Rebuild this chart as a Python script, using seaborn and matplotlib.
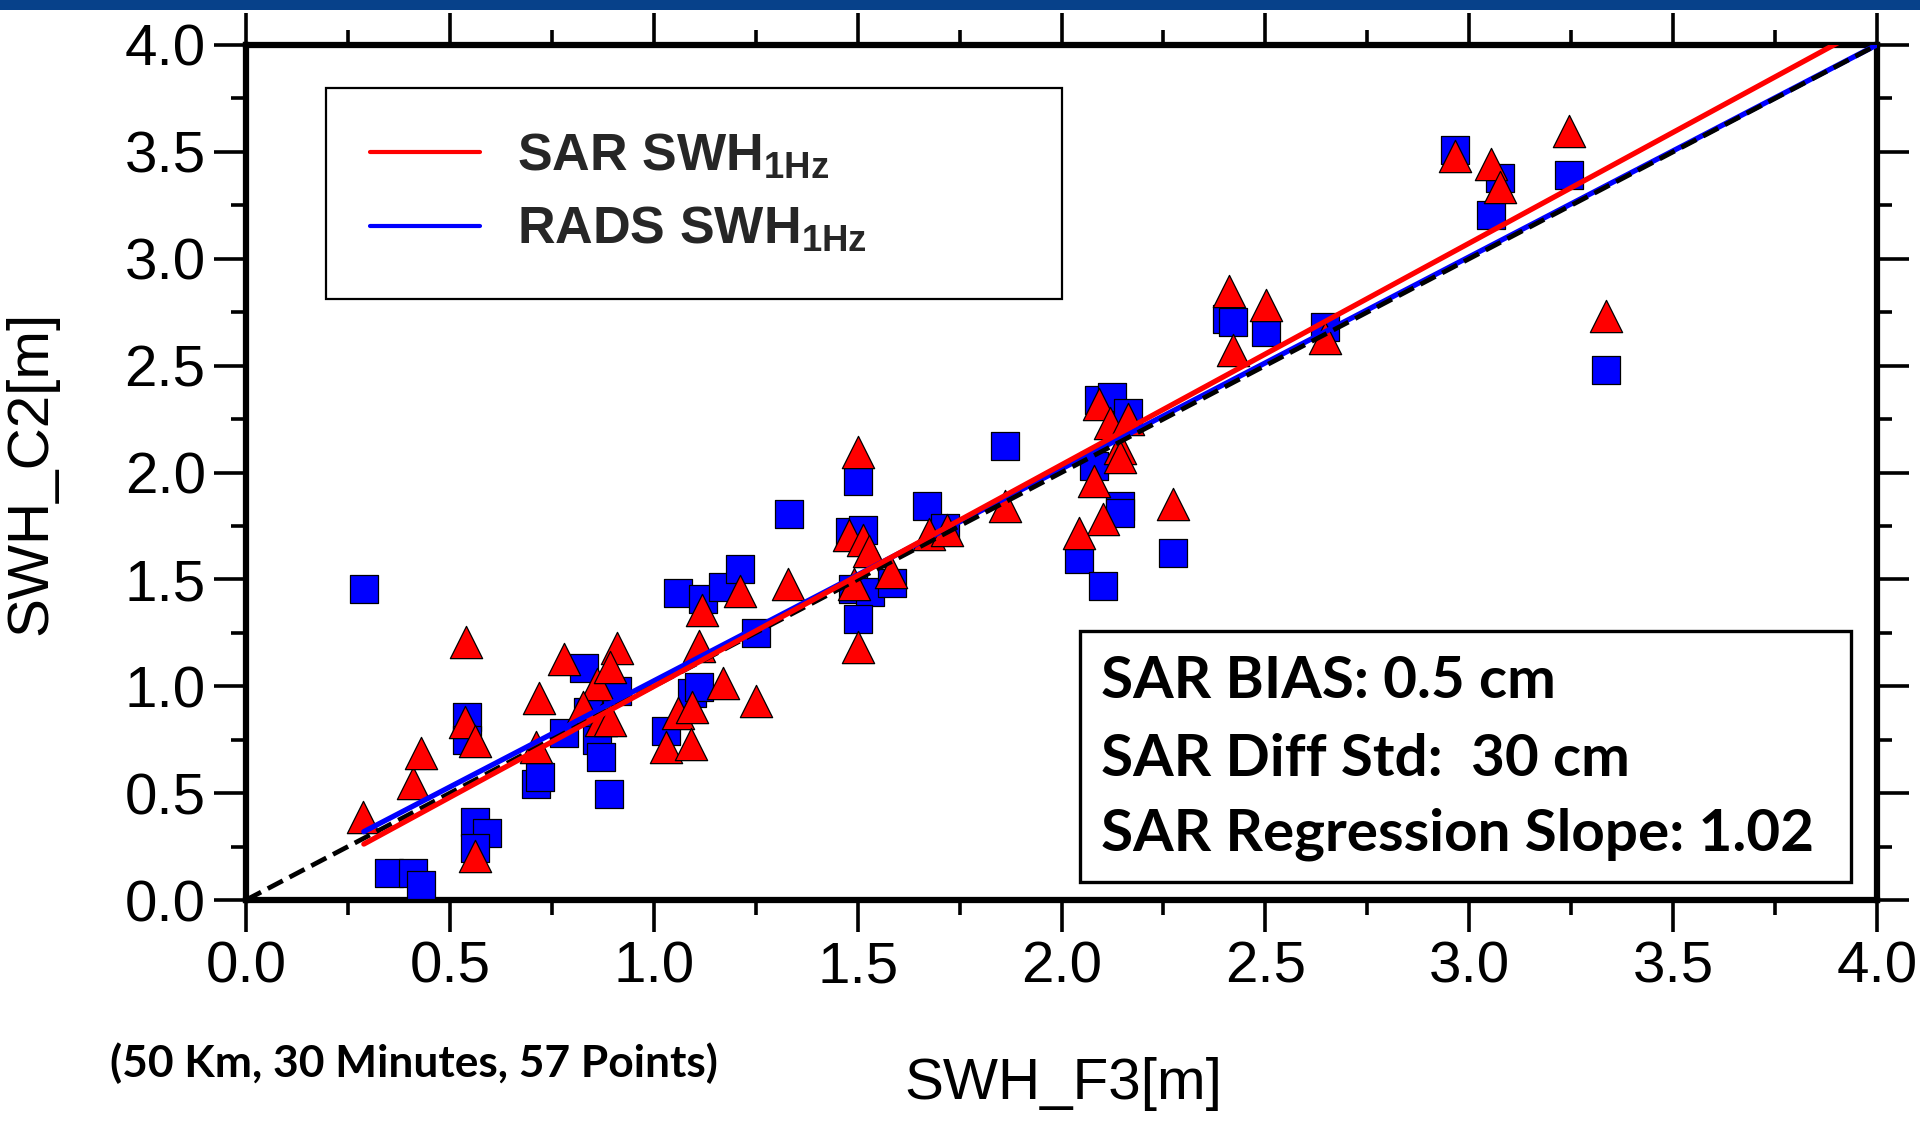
import numpy as np
import pandas as pd
import matplotlib
matplotlib.use("Agg")
import matplotlib.pyplot as plt
from matplotlib.ticker import MultipleLocator, AutoMinorLocator
from matplotlib.patches import Rectangle
import seaborn as sns

# ---------------- data ----------------
rads_x = [0.289, 0.351, 0.409, 0.429, 0.541, 0.541, 0.562, 0.590, 0.562, 0.710,
          0.721, 0.781, 0.830, 0.838, 0.860, 0.870, 0.890, 0.911, 1.060, 1.121,
          1.170, 1.211, 1.250, 1.029, 1.093, 1.112, 1.332, 1.502, 1.481, 1.514,
          1.671, 1.714, 1.489, 1.530, 1.585, 1.502, 1.861, 2.092, 2.123, 2.164,
          2.080, 2.143, 2.143, 2.043, 2.102, 2.274, 2.405, 2.420, 2.501, 2.646,
          2.964, 3.075, 3.053, 3.244, 3.335]
rads_y = [1.455, 0.128, 0.125, 0.070, 0.858, 0.749, 0.366, 0.312, 0.242, 0.543,
          0.577, 0.780, 1.084, 0.881, 0.749, 0.670, 0.496, 0.979, 1.435, 1.408,
          1.466, 1.549, 1.248, 0.792, 0.967, 0.998, 1.804, 1.962, 1.723, 1.731,
          1.843, 1.739, 1.453, 1.439, 1.485, 1.315, 2.124, 2.339, 2.355, 2.277,
          2.030, 1.845, 1.809, 1.594, 1.469, 1.622, 2.718, 2.705, 2.657, 2.681,
          3.509, 3.376, 3.203, 3.393, 2.479]

sar_x = [0.288, 0.409, 0.429, 0.539, 0.536, 0.561, 0.561, 0.719, 0.711, 0.781,
         0.862, 0.827, 0.870, 0.909, 0.893, 0.893, 1.060, 1.029, 1.091, 1.093,
         1.111, 1.119, 1.170, 1.211, 1.250, 1.330, 1.502, 1.480, 1.514, 1.528,
         1.492, 1.582, 1.502, 1.676, 1.718, 1.861, 2.092, 2.119, 2.164, 2.143,
         2.143, 2.080, 2.102, 2.043, 2.274, 2.412, 2.420, 2.501, 2.646, 2.964,
         3.053, 3.075, 3.244, 3.335]
sar_y = [0.390, 0.549, 0.686, 1.209, 0.834, 0.745, 0.206, 0.943, 0.714, 1.126,
         1.012, 0.901, 0.842, 1.180, 1.092, 0.842, 0.873, 0.714, 0.730, 0.901,
         1.188, 1.357, 1.017, 1.447, 0.933, 1.478, 2.097, 1.708, 1.686, 1.633,
         1.478, 1.534, 1.184, 1.714, 1.729, 1.845, 2.319, 2.232, 2.249, 2.115,
         2.071, 1.962, 1.784, 1.716, 1.853, 2.847, 2.573, 2.784, 2.629, 3.481,
         3.443, 3.336, 3.599, 2.732]

# regression lines (slope, intercept) and the x range they span
sar_fit = (1.037, -0.038)
rads_fit = (0.992, 0.033)
fit_range = [0.289, 4.0]
one_to_one = [0.0, 4.0]

x_ticks = [0.0, 0.5, 1.0, 1.5, 2.0, 2.5, 3.0, 3.5, 4.0]
y_ticks = [0.0, 0.5, 1.0, 1.5, 2.0, 2.5, 3.0, 3.5, 4.0]

legend_labels = [r"SAR SWH$_{\mathbf{1Hz}}$", r"RADS SWH$_{\mathbf{1Hz}}$"]
stats_lines = ["SAR BIAS: 0.5 cm", "SAR Diff Std:  30 cm", "SAR Regression Slope: 1.02"]
footnote = "(50 Km, 30 Minutes, 57 Points)"
x_label = "SWH_F3[m]"
y_label = "SWH_C2[m]"

# ---------------- style ----------------
sns.set_theme(style="white")
plt.rcParams["font.family"] = ["Liberation Sans", "DejaVu Sans"]
plt.rcParams["mathtext.fontset"] = "custom"
plt.rcParams["mathtext.rm"] = "Liberation Sans"
plt.rcParams["mathtext.bf"] = "Liberation Sans:bold"

W, H = 1920, 1122
fig = plt.figure(figsize=(W / 100, H / 100), dpi=100)
fig.patch.set_facecolor("white")
ax = fig.add_axes([246 / W, 1 - 900 / H, 1631 / W, 855 / H])
ax.set_facecolor("white")

# top blue band
fig.add_artist(Rectangle((0, 1 - 10 / H), 1, 10 / H, transform=fig.transFigure,
                         facecolor="#07418a", edgecolor="none", zorder=10))

rads = pd.DataFrame({"x": rads_x, "y": rads_y})
sar = pd.DataFrame({"x": sar_x, "y": sar_y})

sns.scatterplot(data=rads, x="x", y="y", marker="s", s=390, color="#0000ff",
                edgecolor="black", linewidth=0.9, ax=ax, zorder=3, legend=False)
sns.scatterplot(data=sar, x="x", y="y", marker="^", s=540, color="#ff0000",
                edgecolor="black", linewidth=0.9, ax=ax, zorder=4, legend=False)

xf = np.array(fit_range)
ax.plot(one_to_one, one_to_one, color="black", lw=3.4, ls=(0, (3.6, 1.6)), zorder=5.7)
l_rads, = ax.plot(xf, rads_fit[0] * xf + rads_fit[1], color="#0000ff", lw=3.8,
                  zorder=5.5, label=legend_labels[1])
l_sar, = ax.plot(xf, sar_fit[0] * xf + sar_fit[1], color="#ff0000", lw=3.8,
                 zorder=6, label=legend_labels[0])

ax.set_xlim(0, 4)
ax.set_ylim(0, 4)
ax.set_xticks(x_ticks)
ax.set_yticks(y_ticks)
ax.set_xticklabels([f"{v:.1f}" for v in x_ticks])
ax.set_yticklabels([f"{v:.1f}" for v in y_ticks])
ax.xaxis.set_minor_locator(AutoMinorLocator(2))
ax.yaxis.set_minor_locator(AutoMinorLocator(2))
ax.tick_params(which="both", direction="out", top=True, right=True,
               bottom=True, left=True, labeltop=False, labelright=False,
               color="black", width=2.6)
ax.tick_params(which="major", length=23, pad=6, labelsize=42, labelcolor="black")
ax.tick_params(which="minor", length=11)
for sp in ax.spines.values():
    sp.set_visible(True)
    sp.set_color("black")
    sp.set_linewidth(4.5)

ax.set_xlabel(x_label, fontsize=42, color="black", va="center")
ax.set_ylabel(y_label, fontsize=42, color="black", va="center")
ax.xaxis.set_label_coords((1063 - 246) / 1631, (900 - 1084) / 855)
ax.yaxis.set_label_coords((31 - 246) / 1631, 0.5)

# legend
leg = ax.legend(handles=[l_sar, l_rads], labels=legend_labels,
                loc="upper left", mode="expand",
                bbox_to_anchor=((326 - 246) / 1631, 0.0, (1062 - 326) / 1631, (900 - 88) / 855),
                borderaxespad=0, frameon=True, fancybox=False, framealpha=1,
                edgecolor="black", prop={"family": "Liberation Sans", "weight": "bold", "size": 37.5},
                borderpad=0.85, labelspacing=0.46, handlelength=2.1, handletextpad=0.72)
leg.get_frame().set_linewidth(1.6)
for ln in leg.get_lines():
    ln.set_linewidth(3.0)
leg.set_zorder(8)

# stats box
ax.add_patch(Rectangle(((1080 - 246) / 1631, (900 - 882) / 855), (1851 - 1080) / 1631,
                       (882 - 631) / 855, transform=ax.transAxes, facecolor="white",
                       edgecolor="black", lw=2.4, zorder=9))
stat_txts = []
for i, s in enumerate(stats_lines):
    yc = [681, 759, 834][i]
    t = ax.text((1101 - 246) / 1631, (900 - yc) / 855, s, transform=ax.transAxes,
                ha="left", va="center", fontsize=40, fontweight="bold",
                family=["Lato", "DejaVu Sans"], color="black", zorder=10)
    stat_txts.append(t)

fn = fig.text(110 / W, 1 - 1063 / H, footnote, ha="left", va="center", fontsize=24,
              fontweight="bold", family=["Lato", "DejaVu Sans"], color="black")

# fit text widths to the reference
fig.canvas.draw()
r = fig.canvas.get_renderer()
wb = stat_txts[2].get_window_extent(r).width
k = (1813 - 1101) / wb
for t in stat_txts:
    t.set_fontsize(t.get_fontsize() * k)
wf = fn.get_window_extent(r).width
fn.set_fontsize(fn.get_fontsize() * (609 / wf))

fig.savefig("out.png", dpi=100, facecolor="white")
